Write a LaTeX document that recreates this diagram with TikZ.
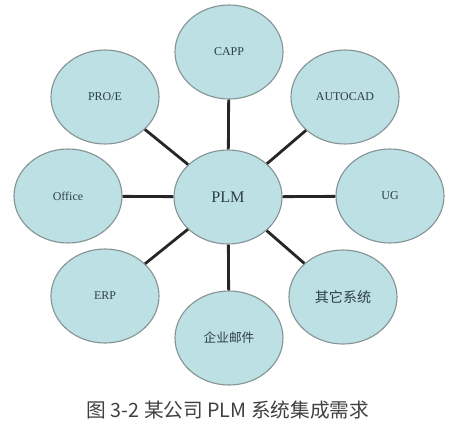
\documentclass[tikz,border=0pt]{standalone}
\usepackage{fontspec}
\setmainfont{Liberation Serif}
\newfontfamily\cjk{Noto Sans CJK SC}
\usetikzlibrary{shapes.geometric}
\definecolor{bubble}{RGB}{188,224,228}
\definecolor{rim}{RGB}{135,148,150}
\definecolor{ink}{RGB}{45,62,70}
\tikzset{
  sys/.style={ellipse,draw=rim,line width=.8pt,fill=bubble,text=ink,
    minimum width=2.7cm,minimum height=2.35cm,inner sep=0pt,font=\fontsize{8.5}{10}\selectfont},
  link/.style={line width=2pt,black!85}
}

\begin{document}
\begin{tikzpicture}
  \useasboundingbox (0,0) rectangle (11.4,10.9);
  \node[sys,font=\fontsize{11.5}{13}\selectfont] (plm) at (5.7,5.975) {PLM};
  \node[sys] (capp) at (5.725,9.6) {CAPP};
  \node[sys] (proe) at (2.625,8.475) {PRO/E};
  \node[sys] (autocad) at (8.625,8.475) {AUTOCAD};
  \node[sys] (office) at (1.7,6.0) {Office};
  \node[sys] (ug) at (9.75,6.0) {UG};
  \node[sys] (erp) at (2.625,3.5) {ERP};
  \node[sys,font=\cjk\fontsize{9}{10}\selectfont] (mail) at (5.725,2.45) {企业邮件};
  \node[sys,font=\cjk\fontsize{10}{11}\selectfont] (other) at (8.575,3.475) {其它系统};
  \foreach \n in {capp,proe,autocad,office,ug,erp,mail,other}
    \draw[link] (plm) -- (\n);
  \node[text=black!75,font=\cjk\fontsize{14}{16}\selectfont] (caption) at (5.7,0.65) {图 3-2 某公司 PLM 系统集成需求};
\end{tikzpicture}
\end{document}
